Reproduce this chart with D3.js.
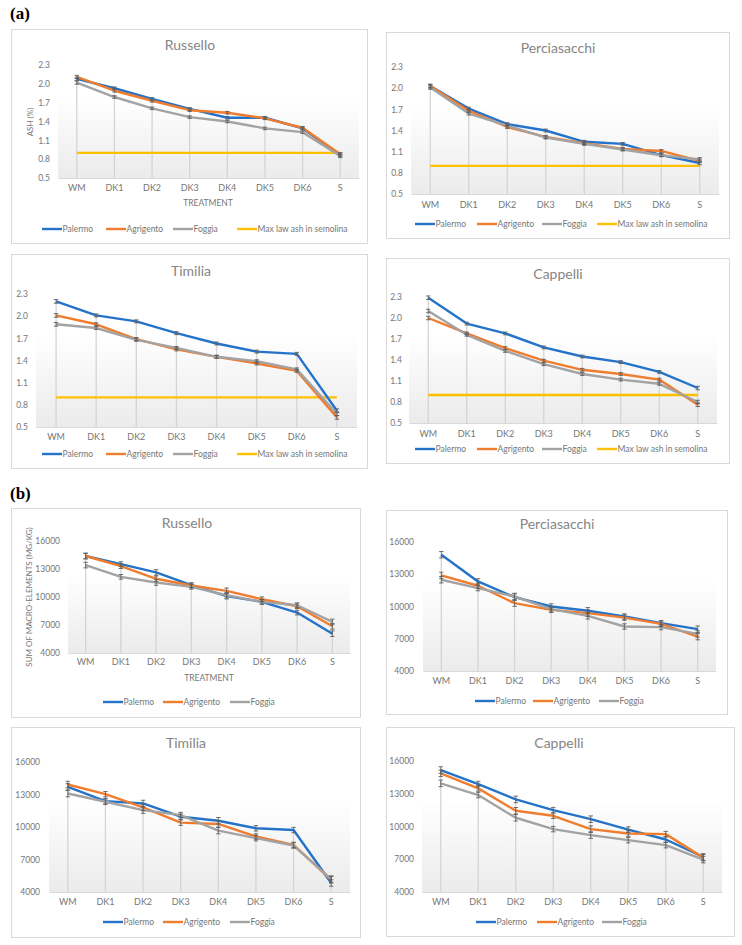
<!DOCTYPE html>
<html>
<head>
<meta charset="utf-8">
<script src="https://cdn.jsdelivr.net/npm/d3@7"></script>
<style>
  html, body { margin: 0; padding: 0; background: #fff; }
  svg { display: block; }
  text { font-family: Lato, "Open Sans", sans-serif; }
</style>
</head>
<body>
<svg id="chart" width="742" height="945"></svg>
<script>
// ---------------- DATA ----------------
const categories = ["WM", "DK1", "DK2", "DK3", "DK4", "DK5", "DK6", "S"];
const seriesNames = ["Palermo", "Agrigento", "Foggia"];
const maxLawLabel = "Max law ash in semolina";
const maxLawAsh = 0.9;
const ashTicks = [0.5, 0.8, 1.1, 1.4, 1.7, 2.0, 2.3];
const macroTicks = [4000, 7000, 10000, 13000, 16000];
const ashErrors = [0.025, 0.02, 0.02, 0.02, 0.02, 0.02, 0.02, 0.025];
const macroErrors = [300, 250, 300, 250, 300, 250, 250, 300];

// (a) Ash (%)
const ashRusselloPalermo   = [2.08, 1.93, 1.76, 1.60, 1.46, 1.46, 1.29, 0.87];
const ashRusselloAgrigento = [2.11, 1.89, 1.73, 1.58, 1.54, 1.45, 1.30, 0.88];
const ashRusselloFoggia    = [2.02, 1.79, 1.61, 1.47, 1.40, 1.29, 1.23, 0.85];

const ashPerciasacchiPalermo   = [2.03, 1.71, 1.49, 1.40, 1.24, 1.21, 1.05, 0.94];
const ashPerciasacchiAgrigento = [2.03, 1.68, 1.45, 1.31, 1.22, 1.14, 1.11, 0.97];
const ashPerciasacchiFoggia    = [2.01, 1.64, 1.47, 1.30, 1.21, 1.13, 1.05, 0.99];

const ashTimiliaPalermo   = [2.20, 2.01, 1.93, 1.77, 1.63, 1.52, 1.49, 0.72];
const ashTimiliaAgrigento = [2.01, 1.89, 1.69, 1.55, 1.45, 1.36, 1.26, 0.63];
const ashTimiliaFoggia    = [1.89, 1.84, 1.68, 1.57, 1.45, 1.39, 1.28, 0.68];

const ashCappelliPalermo   = [2.29, 1.92, 1.78, 1.58, 1.45, 1.37, 1.23, 1.00];
const ashCappelliAgrigento = [2.00, 1.78, 1.57, 1.39, 1.26, 1.20, 1.12, 0.76];
const ashCappelliFoggia    = [2.10, 1.76, 1.53, 1.34, 1.20, 1.12, 1.06, 0.80];

// (b) Sum of macro-elements (mg/kg)
const macroRusselloPalermo   = [14390, 13530, 12630, 11270, 10090, 9480, 8330, 6070];
const macroRusselloAgrigento = [14390, 13310, 11950, 11230, 10660, 9760, 9010, 6860];
const macroRusselloFoggia    = [13420, 12160, 11560, 11090, 10190, 9480, 9120, 7330];

const macroPerciasacchiPalermo   = [14820, 12330, 10870, 10000, 9600, 9070, 8450, 7890];
const macroPerciasacchiAgrigento = [12890, 11930, 10310, 9690, 9380, 8970, 8380, 7200];
const macroPerciasacchiFoggia    = [12490, 11710, 10930, 9750, 9130, 8140, 8080, 7450];

const macroTimiliaPalermo   = [13700, 12390, 12170, 10950, 10580, 9880, 9720, 4830];
const macroTimiliaAgrigento = [13920, 13030, 11810, 10400, 10280, 9120, 8350, 5130];
const macroTimiliaFoggia    = [13090, 12330, 11560, 11100, 9670, 8970, 8290, 5190];

const macroCappelliPalermo   = [15170, 13890, 12480, 11500, 10670, 9720, 8810, 7210];
const macroCappelliAgrigento = [14870, 13490, 11440, 10980, 9760, 9360, 9300, 7150];
const macroCappelliFoggia    = [13950, 12880, 10800, 9760, 9210, 8750, 8290, 6970];

// ---------------- STYLE ----------------
const colors = { Palermo: "#2473c9", Agrigento: "#f07c2e", Foggia: "#a3a3a3", maxLaw: "#ffc000" };
const textColor = "#767676";
const titleColor = "#858585";

const svg = d3.select("#chart");
const defs = svg.append("defs");
const grad = defs.append("linearGradient").attr("id", "plotGrad")
  .attr("x1", 0).attr("y1", 0).attr("x2", 0).attr("y2", 1);
grad.append("stop").attr("offset", "0%").attr("stop-color", "#ffffff");
grad.append("stop").attr("offset", "30%").attr("stop-color", "#ffffff");
grad.append("stop").attr("offset", "100%").attr("stop-color", "#ebebeb");

// section labels
svg.append("text").attr("x", 10).attr("y", 19).text("(a)")
  .style("font-family", "'Liberation Serif', serif").style("font-weight", "bold")
  .style("font-size", "17px").attr("fill", "#000");
svg.append("text").attr("x", 10).attr("y", 499).text("(b)")
  .style("font-family", "'Liberation Serif', serif").style("font-weight", "bold")
  .style("font-size", "17px").attr("fill", "#000");

const panels = [
  { title: "Russello", box: [11, 29, 367, 243], x: [58, 359], y: [178, 65], tickX: 50,
    titleXY: [190, 45], xLabY: 189, xTitle: [208, 202], yTitle: [30, 122, "ASH (%)"],
    legY: 229, legX: [42, 106, 173, 237], ash: true,
    data: [ashRusselloPalermo, ashRusselloAgrigento, ashRusselloFoggia] },
  { title: "Perciasacchi", box: [386, 32, 729, 238], x: [411, 719], y: [194, 67], tickX: 403,
    titleXY: [558, 48], xLabY: 206, legY: 224, legX: [415, 477, 542, 597], ash: true,
    data: [ashPerciasacchiPalermo, ashPerciasacchiAgrigento, ashPerciasacchiFoggia] },
  { title: "Timilia", box: [11, 254, 367, 468], x: [36, 357], y: [427, 294], tickX: 28,
    titleXY: [191, 271], xLabY: 438, legY: 454, legX: [42, 106, 173, 237], ash: true,
    data: [ashTimiliaPalermo, ashTimiliaAgrigento, ashTimiliaFoggia] },
  { title: "Cappelli", box: [386, 258, 729, 463], x: [409, 717], y: [423, 297], tickX: 402,
    titleXY: [558, 274], xLabY: 435, legY: 449, legX: [415, 477, 542, 597], ash: true,
    data: [ashCappelliPalermo, ashCappelliAgrigento, ashCappelliFoggia] },
  { title: "Russello", box: [11, 508, 360, 717], x: [68, 350], y: [653, 541], tickX: 60,
    titleXY: [187, 523], xLabY: 663, xTitle: [209, 677], yTitle: [29, 597, "SUM OF MACRO-ELEMENTS  (MG/KG)"],
    legY: 702, legX: [103, 163, 230], ash: false,
    data: [macroRusselloPalermo, macroRusselloAgrigento, macroRusselloFoggia] },
  { title: "Perciasacchi", box: [386, 510, 727, 714], x: [423, 716], y: [671, 542], tickX: 414,
    titleXY: [557, 524], xLabY: 682, legY: 701, legX: [475, 533, 599], ash: false,
    data: [macroPerciasacchiPalermo, macroPerciasacchiAgrigento, macroPerciasacchiFoggia] },
  { title: "Timilia", box: [11, 727, 360, 937], x: [49, 350], y: [892, 762], tickX: 40,
    titleXY: [186, 743], xLabY: 903, legY: 922, legX: [103, 163, 230], ash: false,
    data: [macroTimiliaPalermo, macroTimiliaAgrigento, macroTimiliaFoggia] },
  { title: "Cappelli", box: [386, 727, 734, 936], x: [422, 722], y: [892, 761], tickX: 414,
    titleXY: [559, 743], xLabY: 903, legY: 922, legX: [476, 537, 602], ash: false,
    data: [macroCappelliPalermo, macroCappelliAgrigento, macroCappelliFoggia] }
];

panels.forEach(p => {
  const g = svg.append("g");
  const [bx0, by0, bx1, by1] = p.box;
  g.append("rect").attr("x", bx0 + 0.5).attr("y", by0 + 0.5)
    .attr("width", bx1 - bx0).attr("height", by1 - by0)
    .attr("fill", "#fff").attr("stroke", "#d9d9d9").attr("stroke-width", 1);

  const ticks = p.ash ? ashTicks : macroTicks;
  const errs = p.ash ? ashErrors : macroErrors;
  const xScale = d3.scaleBand().domain(categories).range(p.x);
  const yScale = d3.scaleLinear().domain([ticks[0], ticks[ticks.length - 1]]).range(p.y);
  const cx = c => xScale(c) + xScale.bandwidth() / 2;

  // plot area gradient
  g.append("rect").attr("x", p.x[0]).attr("y", p.y[1])
    .attr("width", p.x[1] - p.x[0]).attr("height", p.y[0] - p.y[1])
    .attr("fill", "url(#plotGrad)");

  // title
  g.append("text").attr("x", p.titleXY[0]).attr("y", p.titleXY[1] + 5)
    .attr("text-anchor", "middle").style("font-size", "14px").attr("fill", titleColor).text(p.title);

  // y axis (labels only)
  const yAxis = d3.axisLeft(yScale).tickValues(ticks).tickSize(0).tickPadding(0)
    .tickFormat(p.ash ? d3.format(".1f") : d3.format("d"));
  const ya = g.append("g").attr("transform", `translate(${p.tickX},0)`).call(yAxis);
  ya.select(".domain").remove();
  ya.selectAll("text").attr("fill", textColor).style("font-size", "8.5px")
    .style("font-family", "Lato, sans-serif");

  // x axis
  const xAxis = d3.axisBottom(xScale).tickSize(0).tickPadding(0);
  const xa = g.append("g").attr("transform", `translate(0,${p.y[0]})`).call(xAxis);
  xa.select(".domain").attr("stroke", "#d9d9d9").attr("stroke-width", 1);
  xa.selectAll(".tick text").attr("y", p.xLabY - p.y[0] - 4).attr("dy", "0.71em")
    .attr("fill", textColor).style("font-size", "9px").style("font-family", "Lato, sans-serif");

  if (p.xTitle) {
    g.append("text").attr("x", p.xTitle[0]).attr("y", p.xTitle[1] + 3.5).attr("text-anchor", "middle")
      .style("font-size", "8.5px").attr("fill", textColor).text("TREATMENT");
  }
  if (p.yTitle) {
    g.append("text").attr("transform", `translate(${p.yTitle[0] + 3},${p.yTitle[1]}) rotate(-90)`)
      .attr("text-anchor", "middle").style("font-size", "8px").attr("fill", textColor).text(p.yTitle[2]);
  }

  // drop lines (from highest series value to axis)
  categories.forEach((c, i) => {
    const top = d3.max(p.data, s => s[i]);
    g.append("line").attr("x1", cx(c)).attr("x2", cx(c))
      .attr("y1", yScale(top)).attr("y2", p.y[0])
      .attr("stroke", "#d4d4d4").attr("stroke-width", 1.3);
  });

  // max law line
  if (p.ash) {
    g.append("line").attr("x1", cx(categories[0])).attr("x2", cx(categories[categories.length - 1]))
      .attr("y1", yScale(maxLawAsh)).attr("y2", yScale(maxLawAsh))
      .attr("stroke", colors.maxLaw).attr("stroke-width", 2.3);
  }

  // series lines
  const line = d3.line().x((d, i) => cx(categories[i])).y(d => yScale(d));
  p.data.forEach((s, k) => {
    g.append("path").datum(s).attr("d", line).attr("fill", "none")
      .attr("stroke", colors[seriesNames[k]]).attr("stroke-width", 2.4)
      .attr("stroke-linejoin", "round");
  });

  // error bars
  p.data.forEach(s => {
    s.forEach((v, i) => {
      const x = cx(categories[i]);
      const y1 = yScale(v + errs[i]), y2 = yScale(v - errs[i]);
      g.append("line").attr("x1", x).attr("x2", x).attr("y1", y1).attr("y2", y2)
        .attr("stroke", "#5f5f5f").attr("stroke-width", 0.9);
      [y1, y2].forEach(yy => g.append("line").attr("x1", x - 2.2).attr("x2", x + 2.2)
        .attr("y1", yy).attr("y2", yy).attr("stroke", "#5f5f5f").attr("stroke-width", 0.9));
    });
  });

  // legend
  const legendNames = p.ash ? seriesNames.concat([maxLawLabel]) : seriesNames;
  const legendColors = p.ash ? [colors.Palermo, colors.Agrigento, colors.Foggia, colors.maxLaw]
                             : [colors.Palermo, colors.Agrigento, colors.Foggia];
  legendNames.forEach((n, k) => {
    const lx = p.legX[k];
    g.append("line").attr("x1", lx).attr("x2", lx + 20).attr("y1", p.legY).attr("y2", p.legY)
      .attr("stroke", legendColors[k]).attr("stroke-width", 2.4);
    g.append("text").attr("x", lx + 20.5).attr("y", p.legY + 3.2)
      .style("font-size", "8.5px").attr("fill", textColor).text(n);
  });
});
</script>
</body>
</html>
